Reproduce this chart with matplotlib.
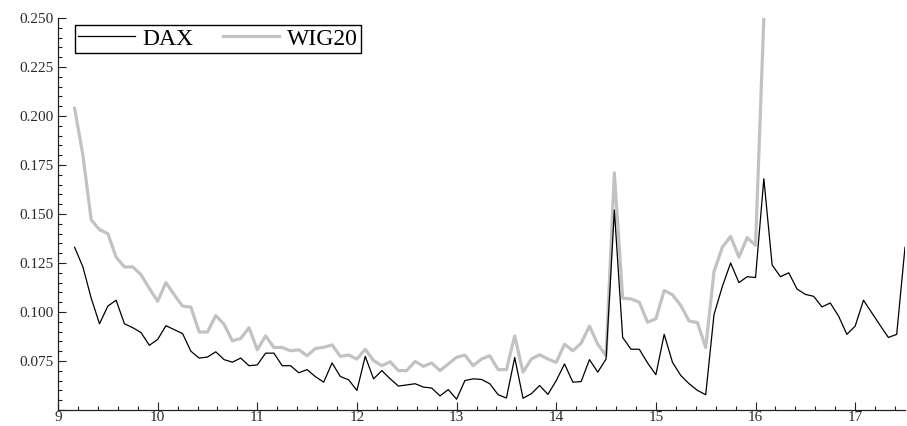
import numpy as np
import matplotlib
matplotlib.use("Agg")
import matplotlib.pyplot as plt
from matplotlib.ticker import MultipleLocator, FuncFormatter

# -----------------------------
# Data (monthly, starting at 9 + 2/12)
# -----------------------------
START = 9 + 2 / 12
STEP = 1 / 12

dax = [
    0.133, 0.123, 0.107, 0.094, 0.103, 0.106, 0.094, 0.092, 0.0895, 0.083,
    0.086, 0.093, 0.091, 0.089, 0.080, 0.0765, 0.077, 0.0797, 0.0757, 0.0744,
    0.0765, 0.0726, 0.073, 0.079, 0.079, 0.0726, 0.0726, 0.069, 0.0706, 0.067,
    0.0642, 0.074, 0.0671, 0.0654, 0.060, 0.0774, 0.0659, 0.0701, 0.0659, 0.0622,
    0.0628, 0.0634, 0.0617, 0.0612, 0.0572, 0.0604, 0.0555, 0.065, 0.0659, 0.0656,
    0.0634, 0.0578, 0.0561, 0.0768, 0.056, 0.0583, 0.0625, 0.058, 0.065, 0.0735,
    0.0642, 0.0645, 0.0757, 0.0693, 0.076, 0.152, 0.087, 0.081, 0.081, 0.074,
    0.068, 0.0886, 0.0743, 0.0676, 0.0634, 0.060, 0.0578, 0.0987, 0.113, 0.125,
    0.115, 0.118, 0.1176, 0.168, 0.124, 0.118, 0.120, 0.1117, 0.109, 0.108,
    0.1026, 0.1046, 0.0979, 0.0886, 0.0928, 0.106, 0.0996, 0.0932, 0.087, 0.0886,
    0.133,
]

wig20 = [
    0.204, 0.180, 0.147, 0.142, 0.140, 0.128, 0.123, 0.123, 0.119, 0.112,
    0.1055, 0.115, 0.1088, 0.103, 0.1025, 0.0898, 0.0898, 0.0982, 0.0937, 0.0853,
    0.0865, 0.092, 0.0807, 0.0878, 0.0819, 0.0819, 0.0802, 0.0807, 0.0777, 0.0814,
    0.082, 0.0832, 0.0774, 0.078, 0.076, 0.081, 0.0752, 0.0726, 0.0746, 0.0701,
    0.0701, 0.0748, 0.0723, 0.074, 0.0701, 0.0735, 0.0769, 0.078, 0.0726, 0.076,
    0.0777, 0.0706, 0.0706, 0.0878, 0.0693, 0.076, 0.0782, 0.076, 0.0743, 0.0836,
    0.0802, 0.0841, 0.0928, 0.0836, 0.0777, 0.171, 0.107, 0.1067, 0.105, 0.0948,
    0.0965, 0.111, 0.1088, 0.1033, 0.0954, 0.0946, 0.0819, 0.1206, 0.133, 0.1386,
    0.128, 0.138, 0.134, 0.25,
]

x_dax = START + STEP * np.arange(len(dax))
x_wig = START + STEP * np.arange(len(wig20))

# -----------------------------
# Plot
# -----------------------------
plt.rcParams["font.family"] = ["Liberation Serif", "DejaVu Serif"]

fig = plt.figure(figsize=(9.07, 4.26), dpi=100)
ax = fig.add_axes([58 / 907, 16 / 426, 847 / 907, 392 / 426])

ax.plot(x_dax, dax, color="black", lw=0.9, label="DAX", zorder=3)
ax.plot(x_wig, wig20, color="#c2c2c2", lw=2.3, label="WIG20", zorder=2)

ax.set_xlim(9, 17.5)
ax.set_ylim(0.05, 0.25)

ax.xaxis.set_major_locator(MultipleLocator(1))
ax.xaxis.set_minor_locator(MultipleLocator(0.2))
ax.yaxis.set_major_locator(MultipleLocator(0.025))
ax.yaxis.set_minor_locator(MultipleLocator(0.005))
# the origin value is not labelled on the y axis
ax.yaxis.set_major_formatter(
    FuncFormatter(lambda v, pos: "" if abs(v - 0.05) < 1e-9 else f"{v:.3f}")
)

ax.spines["top"].set_visible(False)
ax.spines["right"].set_visible(False)
for s in ("left", "bottom"):
    ax.spines[s].set_linewidth(0.9)
    ax.spines[s].set_color("#222222")

ax.tick_params(which="both", direction="in", color="#222222", width=0.8)
ax.tick_params(which="major", length=5.5, labelsize=11, labelcolor="#2a2a2a")
ax.tick_params(which="minor", length=3)
ax.tick_params(axis="y", which="major", pad=3.5)
ax.tick_params(axis="x", which="major", pad=0.5)

leg = ax.legend(
    loc="upper left", bbox_to_anchor=(0.02, 0.983), ncol=2,
    fontsize=17, frameon=True, fancybox=False, framealpha=1,
    edgecolor="black", borderpad=0.15, handlelength=2.4,
    handletextpad=0.3, columnspacing=1.25, borderaxespad=0,
)
leg.get_frame().set_linewidth(1.0)

fig.savefig("out.png", dpi=100)
